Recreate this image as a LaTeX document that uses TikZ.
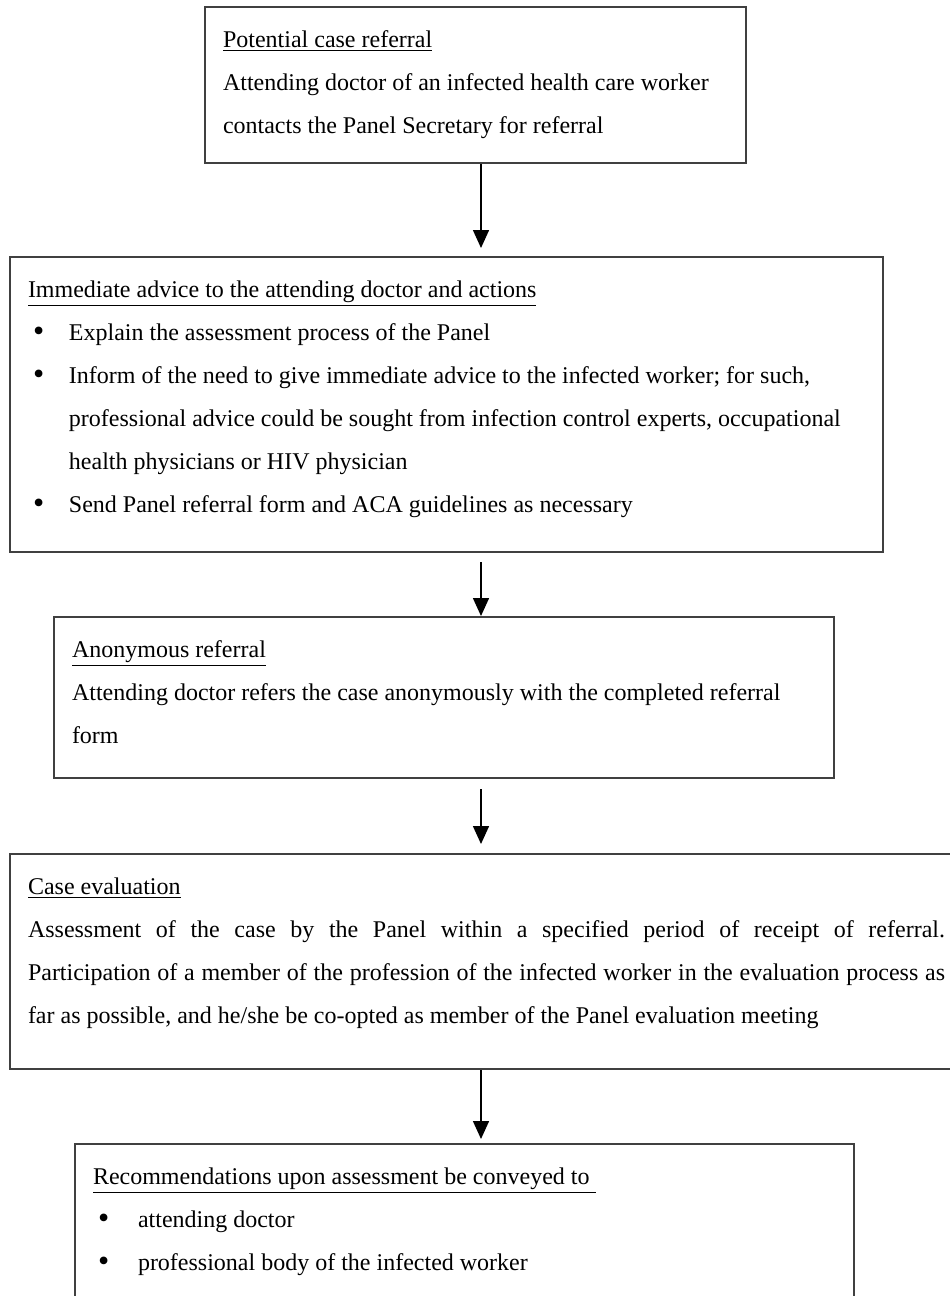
\documentclass[tikz,border=0pt]{standalone}
\usepackage{fontspec}
\setmainfont{Liberation Serif}
\usepackage{tikz}
\usetikzlibrary{arrows.meta,positioning}
\tikzset{
    stage/.style={rectangle, draw=black!75, line width=1pt, anchor=north west, inner sep=9pt, font=\fontsize{12pt}{21.5pt}\selectfont},
    flow/.style={draw, line width=0.75pt, -{Triangle[length=9pt, width=8pt]}}
}
\newcommand{\stagetext}[3]{\parbox[c][#2][t]{#1}{\rule{0pt}{11pt}#3}}
\newcommand{\bitem}[2][20.5pt]{\par\hangindent=#1\hangafter=1\noindent\hspace*{2.5pt}\makebox[\dimexpr#1-2.5pt\relax][l]{\raisebox{-0.8pt}{\fontsize{16pt}{0pt}\selectfont\textbullet}}#2\par}

\begin{document}
\begin{tikzpicture}[x=0.5pt, y=-0.5pt]
    \path[fill=white, use as bounding box] (0,0) rectangle (949,1296);

    % Nodes
    \node[stage] (referral) at (204,6) {\stagetext{252.5pt}{60pt}{%
        \underline{Potential case referral}\\
        Attending doctor of an infected health care worker\\
        contacts the Panel Secretary for referral}};
    \node[stage] (advice) at (9,256) {\stagetext{418.5pt}{129.5pt}{%
        \underline{Immediate advice to the attending doctor and actions}
        \bitem{Explain the assessment process of the Panel}
        \bitem{Inform of the need to give immediate advice to the infected worker; for such,\\
            professional advice could be sought from infection control experts, occupational\\
            health physicians or HIV physician}
        \bitem{Send Panel referral form and ACA guidelines as necessary}}};
    \node[stage] (anon) at (53,616) {\stagetext{372pt}{62.5pt}{%
        \underline{Anonymous referral}\\
        Attending doctor refers the case anonymously with the completed referral\\
        form}};
    \node[stage] (eval) at (9,853) {\stagetext{458.5pt}{89.5pt}{%
        \underline{Case evaluation}\\
        Assessment of the case by the Panel within a specified period of receipt of referral.\linebreak
        Participation of a member of the profession of the infected worker in the evaluation process as\linebreak
        far as possible, and he/she be co-opted as member of the Panel evaluation meeting}};
    \node[stage] (recommend) at (74,1143) {\stagetext{371.5pt}{75pt}{%
        \underline{Recommendations upon assessment be conveyed to\ }
        \bitem[22.5pt]{attending doctor}
        \bitem[22.5pt]{professional body of the infected worker}}};

    % edges
    \coordinate (spine) at (481,0);
    \draw[flow, shorten >=4pt] (referral.south -| spine) -- (advice.north -| spine);
    \draw[flow, shorten <=4.5pt] (advice.south -| spine) -- (anon.north -| spine);
    \draw[flow, shorten <=5pt, shorten >=4.5pt] (anon.south -| spine) -- (eval.north -| spine);
    \draw[flow, shorten >=2pt] (eval.south -| spine) -- (recommend.north -| spine);
\end{tikzpicture}
\end{document}
